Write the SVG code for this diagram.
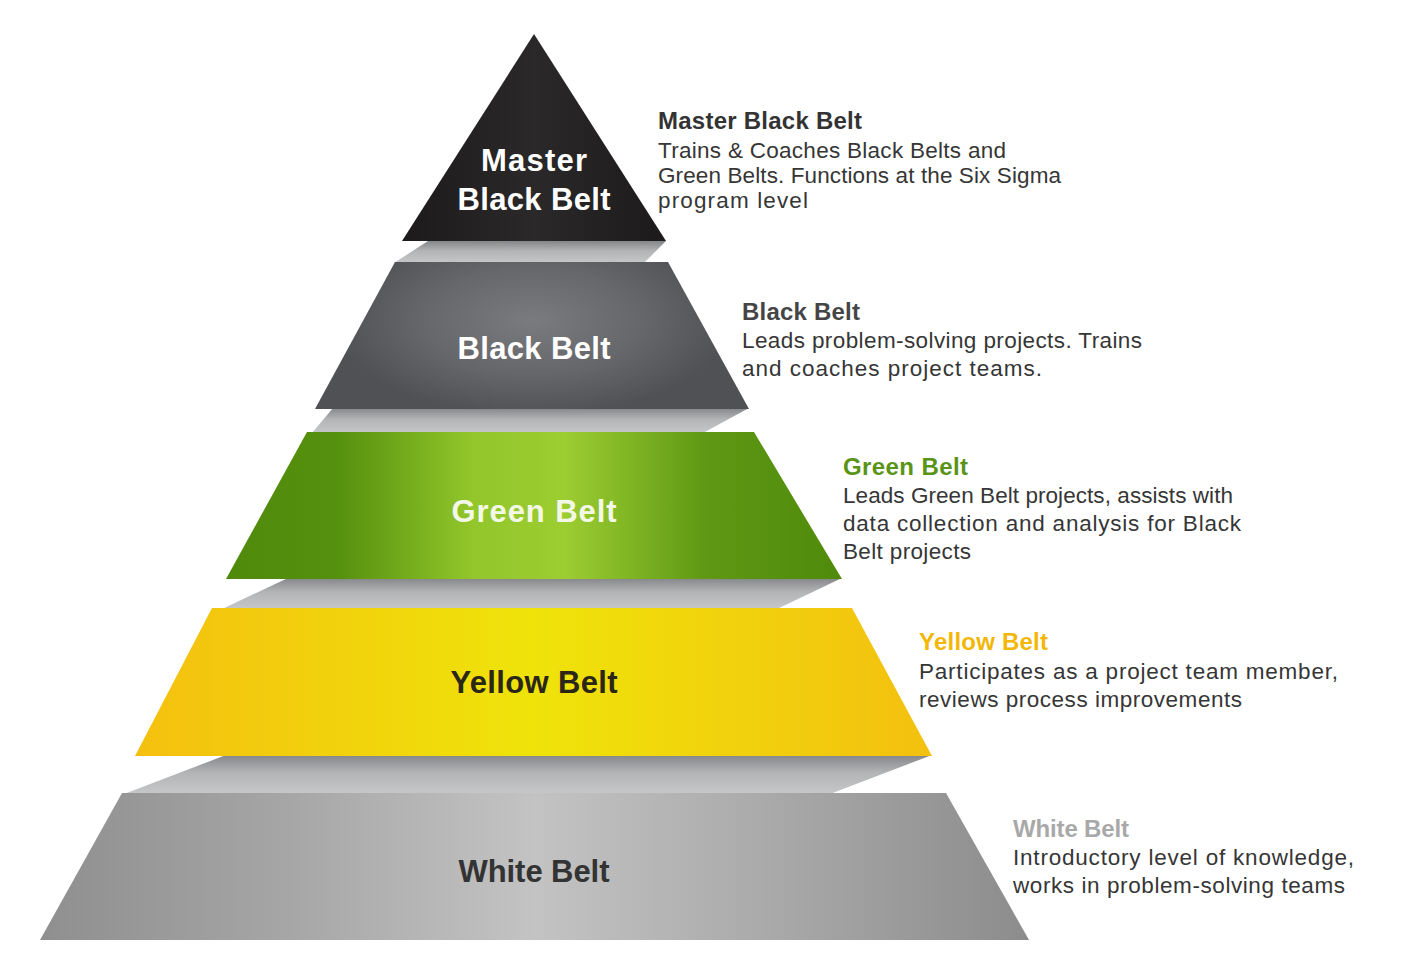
<svg xmlns="http://www.w3.org/2000/svg" width="1413" height="963" viewBox="0 0 1413 963">
<defs>
<linearGradient id="band" x1="0" y1="0" x2="0" y2="1">
<stop offset="0" stop-color="#848689"/>
<stop offset="0.45" stop-color="#b2b4b6"/>
<stop offset="1" stop-color="#c5c7c9"/>
</linearGradient>
<linearGradient id="gMaster" x1="0" y1="0" x2="1" y2="0">
<stop offset="0" stop-color="#1c1a1b"/>
<stop offset="0.5" stop-color="#2a2829"/>
<stop offset="1" stop-color="#1c1a1b"/>
</linearGradient>
<radialGradient id="gBlack" cx="0.5" cy="0.4" r="0.65" gradientTransform="translate(0.5 0.4) scale(0.7 1) translate(-0.5 -0.4)">
<stop offset="0" stop-color="#7a7b7e"/>
<stop offset="0.55" stop-color="#66676a"/>
<stop offset="1" stop-color="#505154"/>
</radialGradient>
<linearGradient id="gGreen" x1="0" y1="0" x2="1" y2="0">
<stop offset="0" stop-color="#4f8a0b"/>
<stop offset="0.18" stop-color="#55900e"/>
<stop offset="0.4" stop-color="#92c62a"/>
<stop offset="0.55" stop-color="#9ccd31"/>
<stop offset="0.78" stop-color="#5e9814"/>
<stop offset="1" stop-color="#4f8a0b"/>
</linearGradient>
<linearGradient id="gYellow" x1="0" y1="0" x2="1" y2="0">
<stop offset="0" stop-color="#f4c00f"/>
<stop offset="0.5" stop-color="#efe30a"/>
<stop offset="1" stop-color="#f3c00f"/>
</linearGradient>
<linearGradient id="gWhite" x1="0" y1="0" x2="1" y2="0">
<stop offset="0" stop-color="#8f8f8f"/>
<stop offset="0.25" stop-color="#a6a6a6"/>
<stop offset="0.5" stop-color="#c3c3c3"/>
<stop offset="0.75" stop-color="#a8a8a8"/>
<stop offset="1" stop-color="#8c8c8c"/>
</linearGradient>
</defs>
<style>
.lbl{font-family:"Liberation Sans",Arial,sans-serif;font-weight:bold;font-size:31px;text-anchor:middle}
.ttl{font-family:"Liberation Sans",Arial,sans-serif;font-weight:bold;font-size:24px}
.dsc{font-family:"Liberation Sans",Arial,sans-serif;font-size:22.5px;fill:#363636}
</style>
<rect width="1413" height="963" fill="#ffffff"/>
<g id="bands">
<polygon points="428,241 666,241 644,263 394,263" fill="url(#band)"/>
<polygon points="333,408 749,408 703,433 312,433" fill="url(#band)"/>
<polygon points="288,578 842,578 777,609 222,609" fill="url(#band)"/>
<polygon points="226,755 932,755 830,794 124,794" fill="url(#band)"/>
</g>
<g id="master-black-belt">
<polygon points="534,34 666,241 402,241" fill="url(#gMaster)"/>
<text class="lbl" x="534" y="171" fill="#ffffff" textLength="106">Master</text>
<text class="lbl" x="534" y="210" fill="#ffffff" textLength="153">Black Belt</text>
<text class="ttl" x="658" y="129" fill="#333333" textLength="204">Master Black Belt</text>
<text class="dsc" x="658" y="158" textLength="348">Trains &amp; Coaches Black Belts and</text>
<text class="dsc" x="658" y="183" textLength="403">Green Belts. Functions at the Six Sigma</text>
<text class="dsc" x="658" y="208" textLength="150">program level</text>
</g>
<g id="black-belt">
<polygon points="395,262 668,262 749,409 315,409" fill="url(#gBlack)"/>
<text class="lbl" x="534" y="359" fill="#ffffff" textLength="153">Black Belt</text>
<text class="ttl" x="742" y="320" fill="#454545" textLength="118">Black Belt</text>
<text class="dsc" x="742" y="348" textLength="400">Leads problem-solving projects. Trains</text>
<text class="dsc" x="742" y="376" textLength="300">and coaches project teams.</text>
</g>
<g id="green-belt">
<polygon points="307,432 754,432 842,579 226,579" fill="url(#gGreen)"/>
<text class="lbl" x="534" y="522" fill="#f3f8e6" textLength="165">Green Belt</text>
<text class="ttl" x="843" y="475" fill="#5a9416" textLength="125">Green Belt</text>
<text class="dsc" x="843" y="503" textLength="390">Leads Green Belt projects, assists with</text>
<text class="dsc" x="843" y="531" textLength="398">data collection and analysis for Black</text>
<text class="dsc" x="843" y="559" textLength="128">Belt projects</text>
</g>
<g id="yellow-belt">
<polygon points="212,608 852,608 932,756 135,756" fill="url(#gYellow)"/>
<text class="lbl" x="534" y="693" fill="#2b2718" textLength="167">Yellow Belt</text>
<text class="ttl" x="919" y="650" fill="#f2b707" textLength="129">Yellow Belt</text>
<text class="dsc" x="919" y="679" textLength="419">Participates as a project team member,</text>
<text class="dsc" x="919" y="707" textLength="323">reviews process improvements</text>
</g>
<g id="white-belt">
<polygon points="122,793 946,793 1029,940 40,940" fill="url(#gWhite)"/>
<text class="lbl" x="534" y="882" fill="#333333" textLength="151">White Belt</text>
<text class="ttl" x="1013" y="837" fill="#a8a8a8" textLength="116">White Belt</text>
<text class="dsc" x="1013" y="865" textLength="341">Introductory level of knowledge,</text>
<text class="dsc" x="1013" y="893" textLength="332">works in problem-solving teams</text>
</g>
</svg>
